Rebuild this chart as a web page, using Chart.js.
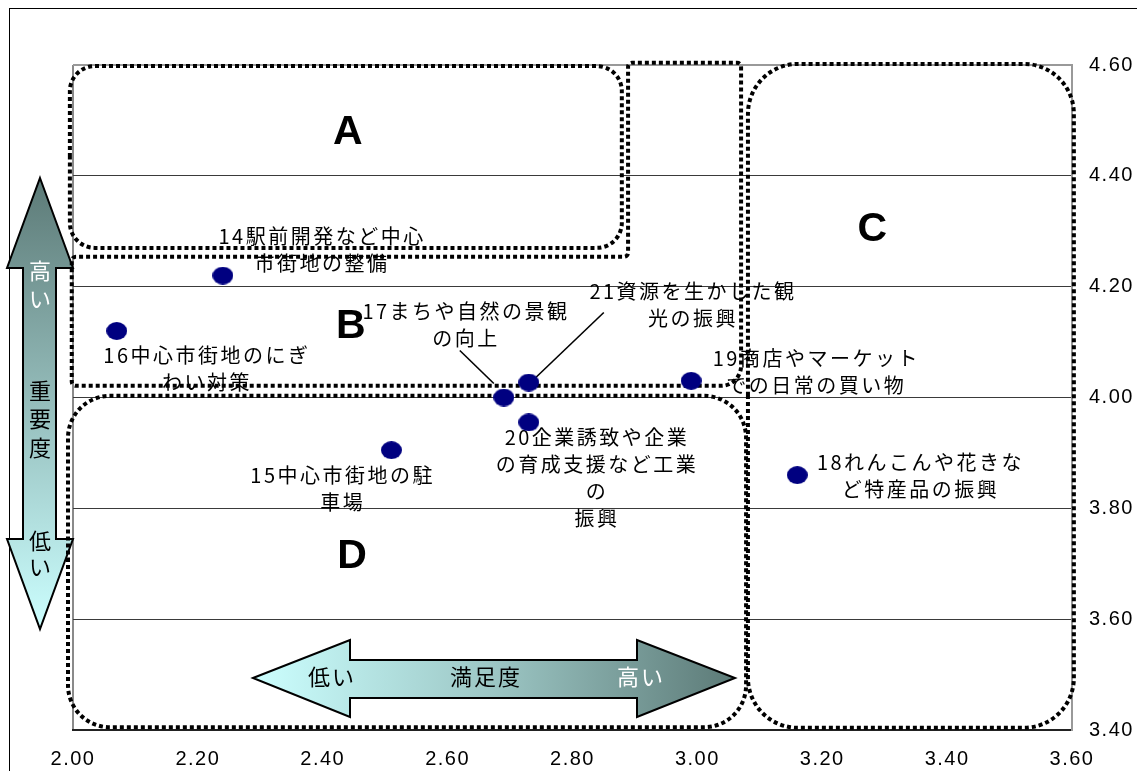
<!DOCTYPE html>
<html lang="ja">
<head>
<meta charset="utf-8">
<title>重要度と満足度</title>
<script src="https://cdn.jsdelivr.net/npm/chart.js@4.4.1/dist/chart.umd.min.js"></script>
<style>
  body { margin: 0; background: #fff; }
  #wrap { width: 1137px; height: 771px; }
</style>
</head>
<body>
<div id="wrap"><canvas id="chart" width="1137" height="771"></canvas></div>
<script>
// items: label lines, satisfaction (x) and importance (y)
const itemLabels = [
    ['14駅前開発など中心', '市街地の整備'],
    ['15中心市街地の駐', '車場'],
    ['16中心市街地のにぎ', 'わい対策'],
    ['17まちや自然の景観', 'の向上'],
    ['18れんこんや花きな', 'ど特産品の振興'],
    ['19商店やマーケット', 'での日常の買い物'],
    ['20企業誘致や企業', 'の育成支援など工業', 'の', '振興'],
    ['21資源を生かした観', '光の振興']
];
const satisfaction = [2.24, 2.51, 2.07, 2.69, 3.16, 2.99, 2.73, 2.73];
const importance = [4.22, 3.905, 4.12, 4.00, 3.86, 4.03, 3.955, 4.027];

const xTickLabels = ['2.00', '2.20', '2.40', '2.60', '2.80', '3.00', '3.20', '3.40', '3.60'];
const yTickLabels = ['3.40', '3.60', '3.80', '4.00', '4.20', '4.40', '4.60'];

// quadrant boxes (drawn in axis units)
const regionNames = ['A', 'B', 'C', 'D'];
const regionNameAt = [[2.44, 4.477], [2.445, 4.127], [3.28, 4.302], [2.447, 3.712]];

// label placement, pixels from the point
const labelOffsets = [[98, -39], [-50, 25], [89, 24], [-39, -86], [122, -13], [124, -22], [67, 15], [163, -91]];
const leaderLines = { 3: [-44, -47, -10, -14], 7: [75, -70, 7, -5] };

const FONT_JP = '"Noto Sans CJK JP", "Noto Sans", sans-serif';

function ellipseMarker(w, h, color) {
    const c = document.createElement('canvas');
    c.width = w;
    c.height = h;
    const g = c.getContext('2d');
    g.fillStyle = color;
    g.beginPath();
    g.ellipse(w / 2, h / 2, w / 2, h / 2, 0, 0, Math.PI * 2);
    g.fill();
    return c;
}

function roundedPath(ctx, pts, r) {
    // closed polygon with rounded corners
    const n = pts.length;
    const mid = (a, b) => [(a[0] + b[0]) / 2, (a[1] + b[1]) / 2];
    const start = mid(pts[n - 1], pts[0]);
    ctx.beginPath();
    ctx.moveTo(start[0], start[1]);
    for (let i = 0; i < n; i++) {
        const p = pts[i], q = pts[(i + 1) % n];
        const rr = Array.isArray(r) ? r[i] : r;
        ctx.arcTo(p[0], p[1], q[0], q[1], rr);
    }
    ctx.closePath();
}

function drawArrow(ctx, pts, grad, stroke) {
    ctx.beginPath();
    pts.forEach((p, i) => i ? ctx.lineTo(p[0], p[1]) : ctx.moveTo(p[0], p[1]));
    ctx.closePath();
    ctx.fillStyle = grad;
    ctx.fill();
    ctx.lineWidth = 2;
    ctx.strokeStyle = stroke;
    ctx.lineJoin = 'miter';
    ctx.stroke();
}

const decorPlugin = {
    id: 'decor',
    beforeDraw(chart) {
        chart.ctx.letterSpacing = '1.5px';
    },
    beforeDatasetsDraw(chart) {
        const ctx = chart.ctx;
        const xs = chart.scales.x, ys = chart.scales.y;
        const X = v => xs.getPixelForValue(v);
        const Y = v => ys.getPixelForValue(v);
        ctx.save();

        // outer frame
        ctx.strokeStyle = '#000';
        ctx.lineWidth = 1;
        ctx.strokeRect(9.5, 8.5, 1400, 1000);

        // vertical arrow: 重要度
        let g = ctx.createLinearGradient(0, 178, 0, 629);
        g.addColorStop(0, '#5c7a77');
        g.addColorStop(0.45, '#8fb6b4');
        g.addColorStop(1, '#ccffff');
        drawArrow(ctx, [[40, 178], [73, 268], [56, 268], [56, 539], [73, 539], [40, 629],
            [7, 539], [23, 539], [23, 268], [7, 268]], g, '#000');

        // horizontal arrow: 満足度
        g = ctx.createLinearGradient(253, 0, 735, 0);
        g.addColorStop(0, '#ccffff');
        g.addColorStop(0.5, '#9cc6c4');
        g.addColorStop(1, '#5c7a77');
        drawArrow(ctx, [[253, 678], [350, 640], [350, 660], [637, 660], [637, 640], [735, 678],
            [637, 717], [637, 698], [350, 698], [350, 717]], g, '#000');

        ctx.letterSpacing = '2px';
        ctx.font = '22px ' + FONT_JP;
        ctx.textAlign = 'center';
        ctx.textBaseline = 'middle';
        ctx.fillStyle = '#fff';
        ctx.fillText('高', 41, 271);
        ctx.fillText('い', 41, 299);
        ctx.fillStyle = '#000';
        ctx.fillText('重', 41, 391);
        ctx.fillText('要', 41, 419);
        ctx.fillText('度', 41, 448);
        ctx.fillText('低', 41, 541);
        ctx.fillText('い', 41, 567);
        ctx.fillText('低い', 332, 677);
        ctx.fillText('満足度', 486, 677);
        ctx.fillStyle = '#fff';
        ctx.fillText('高い', 641, 677);

        // point labels
        ctx.letterSpacing = '2.5px';
        ctx.font = '20px ' + FONT_JP;
        ctx.fillStyle = '#000';
        itemLabels.forEach((lines, i) => {
            const px = X(satisfaction[i]), py = Y(importance[i]);
            const [dx, dy] = labelOffsets[i];
            lines.forEach((t, k) => ctx.fillText(t, px + dx + 1.2, py + dy + k * 27));
        });
        ctx.strokeStyle = '#000';
        ctx.lineWidth = 1.6;
        Object.keys(leaderLines).forEach(i => {
            const px = X(satisfaction[i]), py = Y(importance[i]);
            const l = leaderLines[i];
            ctx.beginPath();
            ctx.moveTo(px + l[0], py + l[1]);
            ctx.lineTo(px + l[2], py + l[3]);
            ctx.stroke();
        });

        // region letters
        ctx.letterSpacing = '0px';
        ctx.font = 'bold 41px "Liberation Sans", Arial, sans-serif';
        regionNames.forEach((n, i) => ctx.fillText(n, X(regionNameAt[i][0]), Y(regionNameAt[i][1])));

        // dotted region boxes
        ctx.setLineDash([4, 3]);
        ctx.lineWidth = 4;
        ctx.strokeStyle = '#000';
        const box = (x0, y0, x1, y1, r) => {
            roundedPath(ctx, [[X(x0), Y(y1)], [X(x1), Y(y1)], [X(x1), Y(y0)], [X(x0), Y(y0)]], r);
            ctx.stroke();
        };
        box(1.995, 4.270, 2.879, 4.598, 25);   // A
        box(1.992, 3.405, 3.078, 4.003, 42);   // D
        box(3.081, 3.404, 3.603, 4.602, 50);   // C
        // B: L-shaped band
        roundedPath(ctx, [
            [X(1.998), Y(4.254)], [X(2.889), Y(4.254)], [X(2.889), Y(4.604)],
            [X(3.070), Y(4.604)], [X(3.070), Y(4.021)], [X(1.998), Y(4.021)]
        ], [4, 4, 4, 4, 20, 4]);
        ctx.stroke();

        ctx.restore();
        ctx.letterSpacing = '1.5px';
    }
};

const ctx = document.getElementById('chart').getContext('2d');
new Chart(ctx, {
    type: 'scatter',
    data: {
        datasets: [{
            label: '項目',
            data: satisfaction.map((v, i) => ({ x: v, y: importance[i] })),
            pointStyle: ellipseMarker(21, 18, '#000080'),
            pointRadius: 10,
            pointHoverRadius: 10
        }]
    },
    options: {
        responsive: false,
        animation: false,
        layout: { padding: { left: 73, top: 65, right: 0, bottom: 0 } },
        plugins: {
            legend: { display: false },
            tooltip: { enabled: false }
        },
        scales: {
            x: {
                type: 'linear',
                min: 2.0,
                max: 3.6,
                ticks: {
                    stepSize: 0.2,
                    padding: 17,
                    color: '#000',
                    font: { family: '"Liberation Sans", Arial, sans-serif', size: 20 },
                    callback: (v, i) => xTickLabels[i]
                },
                grid: {
                    drawTicks: false,
                    color: c => (c.tick && Math.abs(c.tick.value - 2.0) < 1e-6) ? '#8a8a8a' : 'rgba(0,0,0,0)',
                    lineWidth: 2
                },
                border: { color: '#222', width: 2 },
                afterFit: s => { s.height = 41; }
            },
            y: {
                type: 'linear',
                position: 'right',
                min: 3.4,
                max: 4.6,
                ticks: {
                    stepSize: 0.2,
                    padding: 17,
                    color: '#000',
                    font: { family: '"Liberation Sans", Arial, sans-serif', size: 20 },
                    callback: (v, i) => yTickLabels[i]
                },
                grid: {
                    drawTicks: false,
                    color: c => {
                        if (!c.tick) return '#333';
                        if (Math.abs(c.tick.value - 4.6) < 1e-6) return '#999';
                        if (Math.abs(c.tick.value - 3.4) < 1e-6) return 'rgba(0,0,0,0)';
                        return '#3a3a3a';
                    },
                    lineWidth: c => (c.tick && Math.abs(c.tick.value - 4.6) < 1e-6) ? 2 : 1
                },
                border: { color: '#999', width: 2 },
                afterFit: s => { s.width = 65; }
            }
        }
    },
    plugins: [decorPlugin]
});
</script>
</body>
</html>
